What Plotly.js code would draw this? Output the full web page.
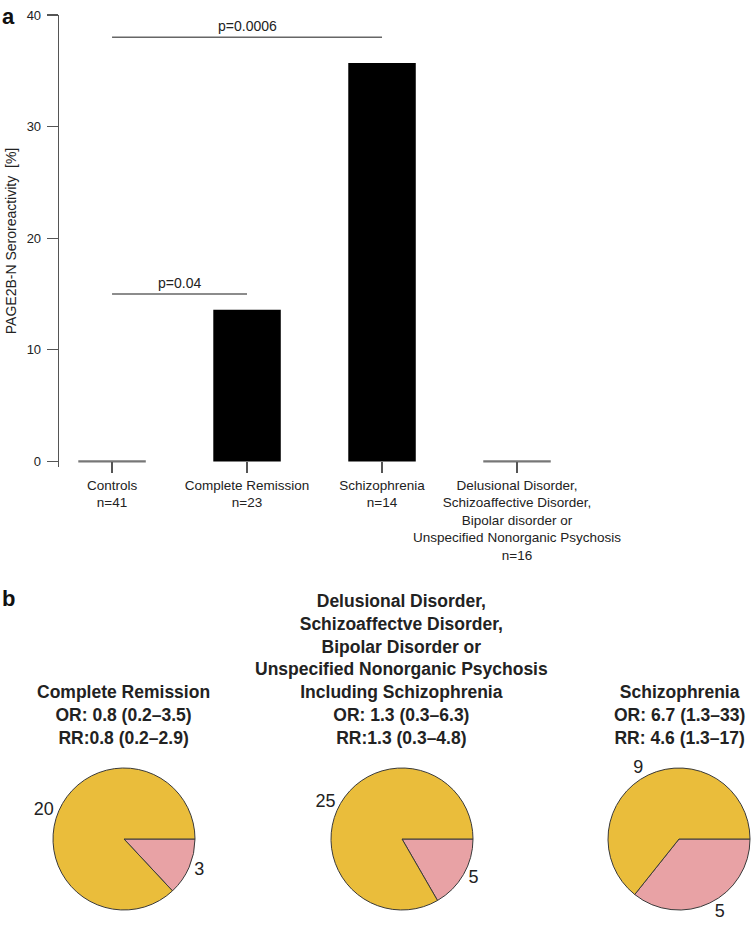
<!DOCTYPE html>
<html><head><meta charset="utf-8">
<script src="https://cdn.plot.ly/plotly-3.0.1.min.js"></script>
<style>html,body{margin:0;padding:0;background:#fff}#chart{width:752px;height:925px}</style>
</head><body><div id="chart"></div>
<script>
// ---- data ----
const groups = ['Controls', 'Complete Remission', 'Schizophrenia',
  'Delusional Disorder,<br>Schizoaffective Disorder,<br>Bipolar disorder or<br>Unspecified Nonorganic Psychosis'];
const groupN = [41, 23, 14, 16];
const seroreactivity = [0, 13.6, 35.7, 0];
const yTicks = [0, 10, 20, 30, 40];
const pFrom = [0, 0];
const pTo = [1, 2];
const pHeight = [15, 38];
const pLabels = ['p=0.04', 'p=0.0006'];

const pieTitles = [
  'Complete Remission<br>OR: 0.8 (0.2–3.5)<br>RR:0.8 (0.2–2.9)',
  'Delusional Disorder,<br>Schizoaffectve Disorder,<br>Bipolar Disorder or<br>Unspecified Nonorganic Psychosis<br>Including Schizophrenia<br>OR: 1.3 (0.3–6.3)<br>RR:1.3 (0.3–4.8)',
  'Schizophrenia<br>OR: 6.7 (1.3–33)<br>RR: 4.6 (1.3–17)'
];
const pieNegative = [20, 25, 9];
const piePositive = [3, 5, 5];
const pieSliceNames = ['Seropositive', 'Seronegative'];

// ---- layout constants ----
const W = 752, H = 925;
const TXT = '#222';
const AX = '#555';
const FONT = 'Liberation Sans, Arial, Helvetica, sans-serif';
const barWidth = 0.5;
const yellow = '#EABD3B', pink = '#E8A2A5';
const pieCx = [124, 402, 679], pieCy = 839, pieR = 71;

const xIdx = groups.map((g, i) => i);
const traces = [];

traces.push({
  type: 'bar', x: xIdx, y: seroreactivity, width: barWidth,
  marker: {color: '#000', line: {width: 0}},
  xaxis: 'x', yaxis: 'y', hoverinfo: 'skip', showlegend: false
});

// zero-height bars drawn as a grey line (as in the original)
const zx = [], zy = [];
seroreactivity.forEach((v, i) => {
  if (v === 0) { zx.push(i - barWidth / 2, i + barWidth / 2, null); zy.push(v, v, null); }
});
traces.push({
  type: 'scatter', mode: 'lines', x: zx, y: zy,
  line: {color: '#777', width: 2.2}, xaxis: 'x', yaxis: 'y',
  hoverinfo: 'skip', showlegend: false
});

// significance brackets
const annotations = [];
pFrom.forEach((f, k) => {
  traces.push({
    type: 'scatter', mode: 'lines', x: [f, pTo[k]], y: [pHeight[k], pHeight[k]],
    line: {color: '#666', width: 1.6}, xaxis: 'x', yaxis: 'y',
    hoverinfo: 'skip', showlegend: false
  });
  annotations.push({
    xref: 'x', yref: 'y', x: (f + pTo[k]) / 2, y: pHeight[k], yanchor: 'bottom',
    yshift: 1, text: pLabels[k], showarrow: false,
    font: {family: FONT, size: 14, color: TXT}
  });
});

// pies (slices run clockwise from 3 o'clock: positive first, then negative)
pieNegative.forEach((neg, i) => {
  traces.push({
    type: 'pie', values: [piePositive[i], neg], labels: pieSliceNames,
    sort: false, direction: 'clockwise', rotation: 90,
    marker: {colors: [pink, yellow], line: {color: '#3a3a3a', width: 1}},
    textinfo: 'value', textposition: 'outside',
    outsidetextfont: {family: FONT, size: 18, color: TXT},
    domain: {x: [(pieCx[i] - pieR) / W, (pieCx[i] + pieR) / W],
             y: [1 - (pieCy + pieR) / H, 1 - (pieCy - pieR) / H]},
    hoverinfo: 'skip', showlegend: false
  });
  annotations.push({
    xref: 'paper', yref: 'paper', x: pieCx[i] / W, y: 1 - 750 / H,
    xanchor: 'center', yanchor: 'bottom', align: 'center',
    text: '<b>' + pieTitles[i].split('<br>').join('</b><br><b>') + '</b>',
    showarrow: false, font: {family: FONT, size: 17.5, color: TXT}
  });
});

annotations.push({xref: 'paper', yref: 'paper', x: 0, y: 1 - 2 / H, xanchor: 'left', yanchor: 'top',
  text: '<b>a</b>', showarrow: false, font: {family: FONT, size: 22, color: '#111'}});
annotations.push({xref: 'paper', yref: 'paper', x: 0, y: 1 - 584 / H, xanchor: 'left', yanchor: 'top',
  text: '<b>b</b>', showarrow: false, font: {family: FONT, size: 22, color: '#111'}});

const yBottomPx = 467, yTopPx = 15;
const layout = {
  width: W, height: H,
  margin: {l: 0, r: 0, t: 0, b: 0},
  paper_bgcolor: '#fff', plot_bgcolor: 'rgba(0,0,0,0)',
  font: {family: FONT, color: TXT},
  showlegend: false,
  xaxis: {
    domain: [59 / W, 584.5 / W], range: [-0.393, 3.5],
    tickmode: 'array', tickvals: xIdx,
    ticktext: groups.map((g, i) => g + '<br>n=' + groupN[i]),
    ticks: 'outside', ticklen: 11, tickwidth: 1.3, tickcolor: AX, tickangle: 0,
    showline: false, showgrid: false, zeroline: false,
    anchor: 'free', position: 1 - 461.4 / H,
    tickfont: {family: FONT, size: 13.5, color: TXT}, fixedrange: true
  },
  yaxis: {
    domain: [1 - yBottomPx / H, 1 - yTopPx / H], range: [-0.5, 40],
    tickmode: 'array', tickvals: yTicks,
    ticks: 'outside', ticklen: 11, tickwidth: 1.3, tickcolor: AX,
    showline: true, linecolor: AX, linewidth: 1.3,
    showgrid: false, zeroline: false, ticklabelstandoff: 3,
    tickfont: {family: FONT, size: 13, color: TXT},
    title: {text: 'PAGE2B-N Seroreactivity  [%]', standoff: 6,
            font: {family: FONT, size: 14, color: TXT}},
    automargin: false, fixedrange: true
  },
  annotations: annotations
};

Plotly.newPlot('chart', traces, layout, {displayModeBar: false, staticPlot: true});
</script></body></html>
